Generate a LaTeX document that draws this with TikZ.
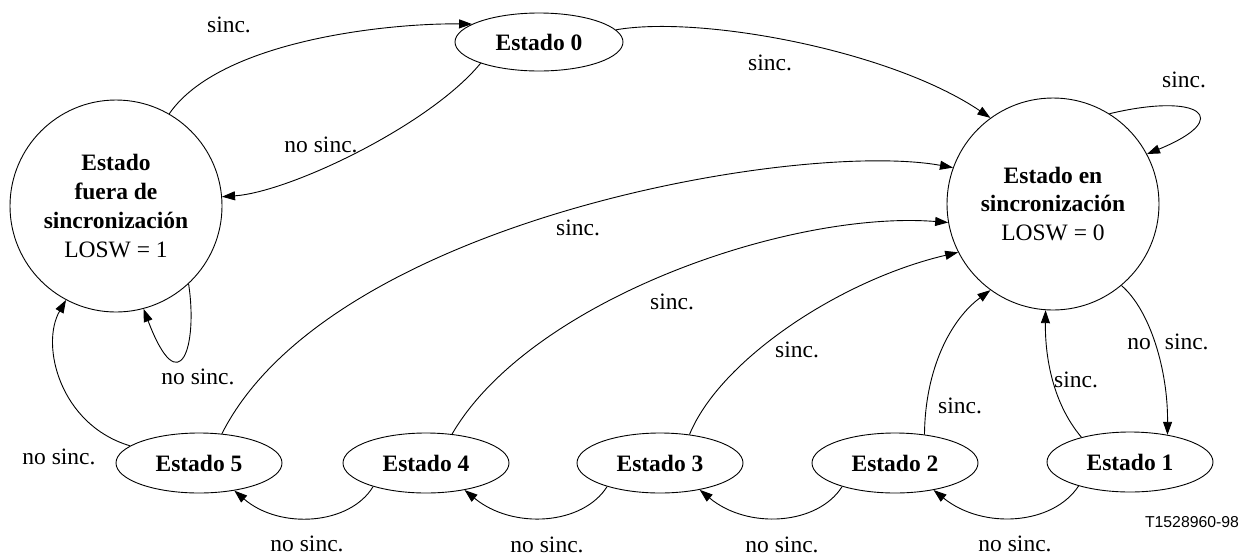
\documentclass[tikz,border=0pt]{standalone}
\usepackage{fontspec}
\setmainfont{Liberation Serif}
\setsansfont{Liberation Sans}
\usetikzlibrary{arrows.meta,shapes.geometric}
\begin{document}
\begin{tikzpicture}[x=1pt,y=-1pt,
  every node/.style={font=\fontsize{23.5}{28.7}\selectfont},
  stbox/.style={draw,ellipse,line width=0.9pt,minimum width=166pt,minimum height=60pt,inner sep=0pt,font=\fontsize{23.5}{28.7}\selectfont\bfseries},
  bigst/.style={draw,circle,line width=0.9pt,minimum size=212pt,inner sep=0pt,align=center},
  arr/.style={line width=0.9pt,-{Triangle[length=13pt,width=9pt]}},
  lbl/.style={inner sep=0pt}
]
\useasboundingbox (0,0) rectangle (1248,558);

% states
\node[bigst] (L) at (116,206) {\textbf{Estado}\\\textbf{fuera de}\\\textbf{sincronización}\\LOSW = 1};
\node[bigst] (R) at (1053,204) {\textbf{Estado en}\\\textbf{sincronización}\\LOSW = 0};
\node[stbox,minimum width=168pt,minimum height=58pt] (s0) at (539,42) {Estado 0};
\node[stbox] (s5) at (199,463) {Estado 5};
\node[stbox] (s4) at (426,463) {Estado 4};
\node[stbox] (s3) at (660,463) {Estado 3};
\node[stbox] (s2) at (895,463) {Estado 2};
\node[stbox] (s1) at (1130,462) {Estado 1};

% top connectors
\draw[arr] (L.60) .. controls (220,40) and (390,23) .. (s0.165);
\node[lbl] (t1) at (229,25) {sinc.};
\draw[arr] (s0.200) .. controls (430,125) and (290,192) .. (L.5);
\node[lbl] (t2) at (321,145) {no sinc.};
\draw[arr] (s0.9) .. controls (700,15) and (890,50) .. (R.126);
\node[lbl] (t3) at (770,63) {sinc.};
\draw[arr] (R.58) .. controls (1200,92) and (1235,118) .. (R.28);
\node[lbl] (t4) at (1184,80) {sinc.};

% long arcs to R
\draw[arr] (s5.52) .. controls (330,220) and (800,140) .. (R.160);
\node[lbl] (t5) at (578,228) {sinc.};
\draw[arr] (s4.48) .. controls (530,300) and (790,210) .. (R.190);
\node[lbl] (t6) at (672,302) {sinc.};
\draw[arr] (s3.44) .. controls (720,360) and (840,280) .. (R.207);
\node[lbl] (t7) at (797,350) {sinc.};
\draw[arr] (s2.44) .. controls (925,370) and (950,320) .. (R.234);
\node[lbl] (t8) at (960,406) {sinc.};
\draw[arr] (s1.153) .. controls (1050,400) and (1045,350) .. (R.266);
\node[lbl] (t9) at (1076,380) {sinc.};
\draw[arr] (R.-50) .. controls (1150,310) and (1168,370) .. (s1.36);
\node[lbl] (t10) at (1168,342) {no\hspace{14pt}sinc.};

% left side
\draw[arr] (s5.166) .. controls (60,425) and (40,345) .. (L.242);
\node[lbl] (t11) at (59,457) {no sinc.};
\draw[arr] (L.-47) .. controls (198,345) and (180,405) .. (L.-75);
\node[lbl] (t12) at (198,377) {no sinc.};

% bottom chain
\draw[arr] (s4.204) .. controls (350,525) and (280,530) .. (s5.-38);
\node[lbl] (b1) at (307,544) {no sinc.};
\draw[arr] (s3.204) .. controls (583,525) and (513,530) .. (s4.-35);
\node[lbl] (b2) at (547,545) {no sinc.};
\draw[arr] (s2.204) .. controls (818,525) and (748,530) .. (s3.-34);
\node[lbl] (b3) at (782,545) {no sinc.};
\draw[arr] (s1.205) .. controls (1053,525) and (983,530) .. (s2.-35);
\node[lbl] (b4) at (1015,544) {no sinc.};

\node[lbl,font=\sffamily\fontsize{15.8}{18}\selectfont] (id) at (1192,522) {T1528960-98};
\end{tikzpicture}
\end{document}
